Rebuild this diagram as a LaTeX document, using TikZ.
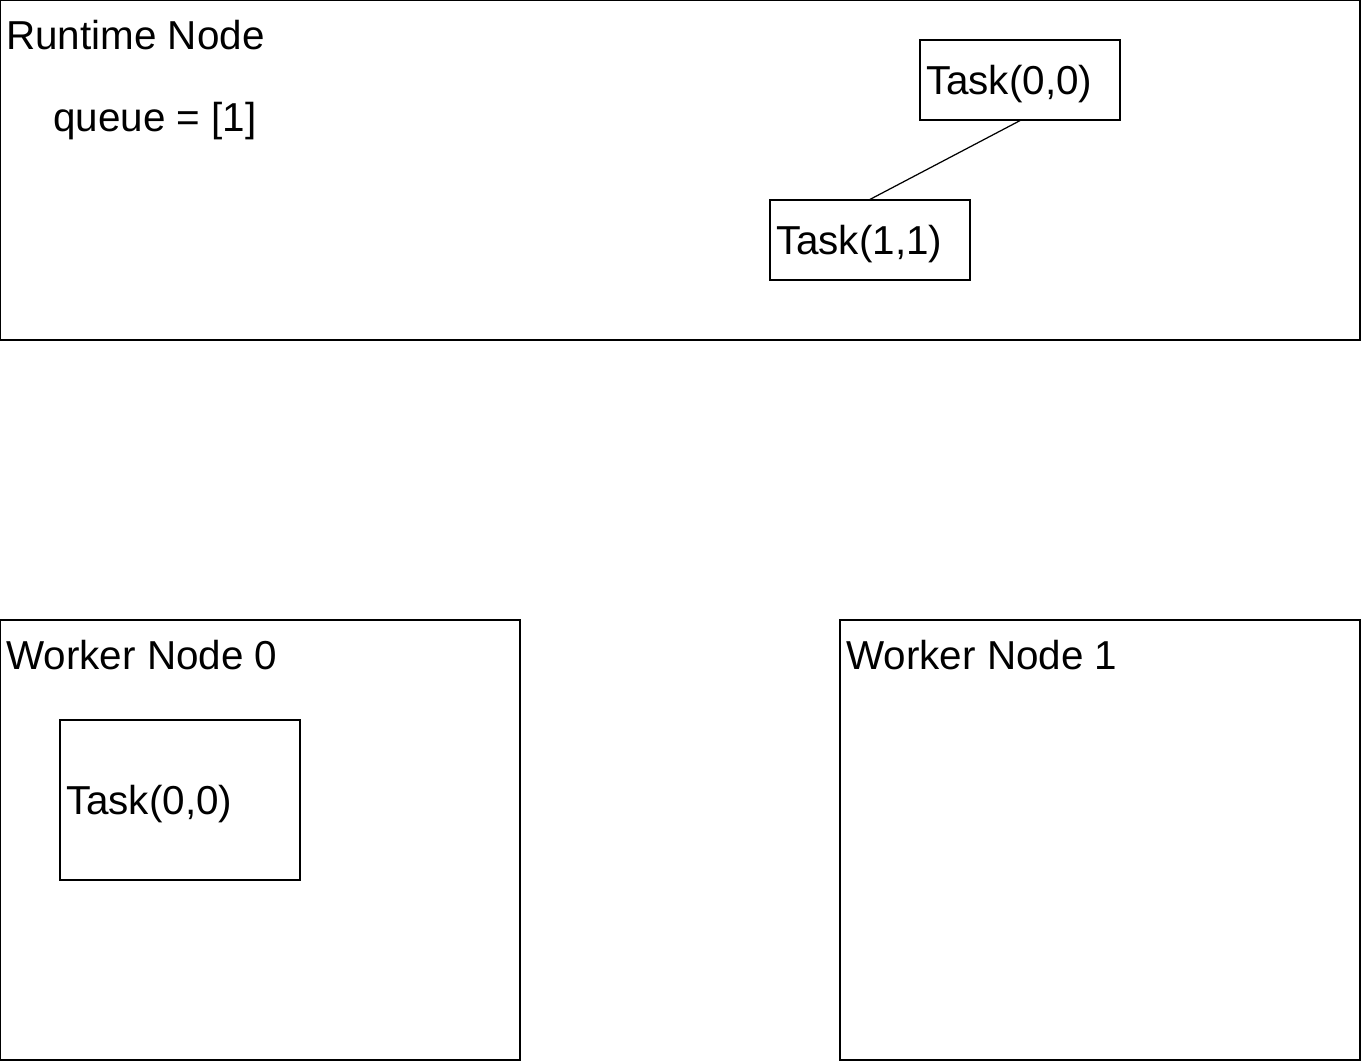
\documentclass[tikz,border=0pt]{standalone}
\usepackage{fontspec}
\setmainfont{Liberation Sans}
\usepackage{tikz}
\tikzset{region/.style={draw, line width=0.7pt},
  label text/.style={anchor=base west, inner sep=0pt},
  taskbox/.style={draw, line width=0.7pt, inner xsep=0.12cm, text width=3.76cm,
    text depth=0pt, minimum height=1.6cm, align=left}}

\begin{document}
\begin{tikzpicture}[x=0.02cm, y=-0.02cm, font=\fontsize{23}{27}\selectfont]
      \useasboundingbox (0, 0) rectangle (1361, 1062);

      \draw [region] (0.5, 0.5) rectangle (1360, 340);
      \node [label text] (rtname) at (6, 49) {Runtime Node};
      \node [label text] (queue) at (53, 131) {queue = [1]};

      \node [taskbox] (t00) at (1020, 80) {Task(0,0)};
      \node [taskbox] (t11) at (870, 240) {Task(1,1)};
      \draw [line width=0.7pt] (t00.south) -- (t11.north);

      \draw [region] (0.5, 620) rectangle (520, 1060);
      \node [label text] (wname0) at (6, 669) {Worker Node 0};
      \node [taskbox, text width=4.56cm, minimum height=3.2cm] (w0task) at (180, 800) {Task(0,0)};

      \draw [region] (840, 620) rectangle (1360, 1060);
      \node [label text] (wname1) at (846, 669) {Worker Node 1};

    \end{tikzpicture}
\end{document}
